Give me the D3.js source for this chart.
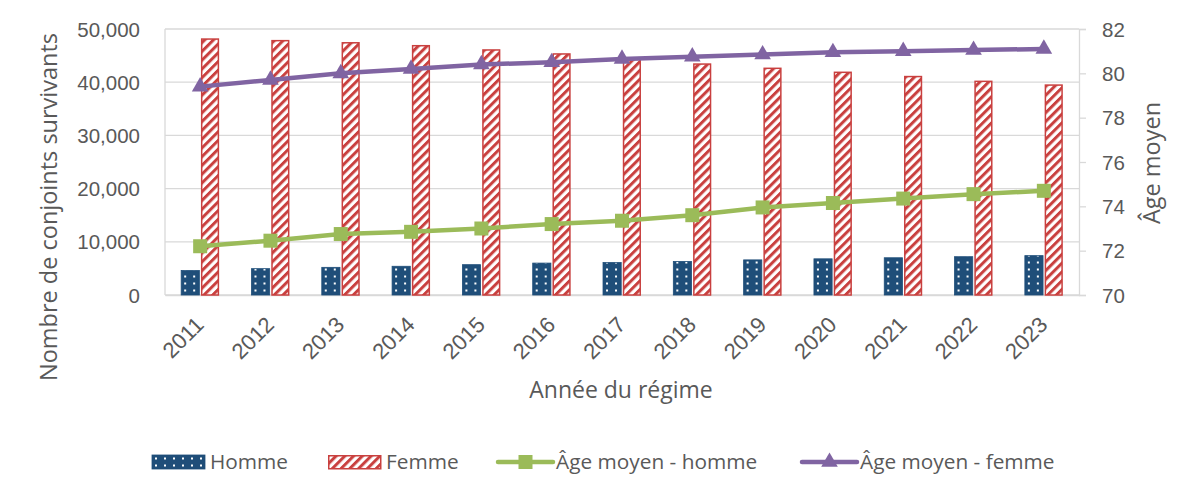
<!DOCTYPE html>
<html>
<head>
<meta charset="utf-8">
<script src="https://cdn.jsdelivr.net/npm/d3@7"></script>
<style>
  html, body { margin: 0; padding: 0; background: #fff; }
  svg { display: block; font-family: "Open Sans", "Noto Sans", sans-serif; }
</style>
</head>
<body>
<svg id="chart" width="1200" height="501"></svg>
<script>
const years = ["2011","2012","2013","2014","2015","2016","2017","2018","2019","2020","2021","2022","2023"];
const homme = [4600, 4950, 5200, 5400, 5700, 6000, 6100, 6300, 6600, 6800, 7000, 7200, 7400];
const femme = [48250, 47950, 47550, 47000, 46200, 45450, 44400, 43550, 42750, 42000, 41200, 40300, 39600];
const ageHomme = [72.2, 72.45, 72.75, 72.85, 73.0, 73.2, 73.35, 73.6, 73.95, 74.15, 74.35, 74.55, 74.7];
const ageFemme = [79.4, 79.7, 80.0, 80.2, 80.4, 80.5, 80.65, 80.75, 80.85, 80.95, 81.0, 81.05, 81.1];
const leftTicks = [0, 10000, 20000, 30000, 40000, 50000];
const rightTicks = [70, 72, 74, 76, 78, 80, 82];
const seriesNames = ["Homme", "Femme", "Âge moyen - homme", "Âge moyen - femme"];

const C = { blue: "#1F4E79", red: "#C9403F", green: "#9BBB59", purple: "#8064A2", text: "#595959", grid: "#D9D9D9" };
const plot = { left: 165, right: 1079, top: 29, bottom: 295 };

const svg = d3.select("#chart");
const defs = svg.append("defs");
const dots = defs.append("pattern").attr("id", "dots").attr("patternUnits", "userSpaceOnUse")
  .attr("width", 9).attr("height", 7);
dots.append("rect").attr("width", 9).attr("height", 7).attr("fill", C.blue);
dots.append("rect").attr("x", 3).attr("y", 2.5).attr("width", 2).attr("height", 2).attr("fill", "#fff");
const stripes = defs.append("pattern").attr("id", "stripes").attr("patternUnits", "userSpaceOnUse")
  .attr("width", 6.2).attr("height", 6.2).attr("patternTransform", "rotate(45)");
stripes.append("rect").attr("width", 6.2).attr("height", 6.2).attr("fill", "#fff");
stripes.append("rect").attr("width", 3).attr("height", 6.2).attr("fill", C.red);

const x0 = d3.scaleBand().domain(years).range([plot.left, plot.right]).paddingInner(0.46).paddingOuter(0.23);
const x1 = d3.scaleBand().domain(["Homme", "Femme"]).range([0, x0.bandwidth()]).paddingInner(0.08);
const yL = d3.scaleLinear().domain([0, 50000]).range([plot.bottom, plot.top]);
const yR = d3.scaleLinear().domain([70, 82]).range([plot.bottom, plot.top]);

// gridlines
svg.append("g").selectAll("line").data(leftTicks).join("line")
  .attr("x1", plot.left).attr("x2", plot.right)
  .attr("y1", d => yL(d)).attr("y2", d => yL(d))
  .attr("stroke", C.grid).attr("stroke-width", 1.3);
// left frame line
svg.append("line").attr("x1", plot.left).attr("x2", plot.left).attr("y1", plot.top).attr("y2", plot.bottom)
  .attr("stroke", C.grid).attr("stroke-width", 1.3);

// left axis
const gL = svg.append("g").attr("transform", `translate(${plot.left},0)`)
  .call(d3.axisLeft(yL).tickValues(leftTicks).tickFormat(d3.format(",")).tickSize(0).tickPadding(25));
gL.select(".domain").remove();
gL.selectAll("text").attr("fill", C.text).style("font-size", "20.5px").attr("dy", "0.35em");

// right axis
const gR = svg.append("g").attr("transform", `translate(${plot.right},0)`)
  .call(d3.axisRight(yR).tickValues(rightTicks).tickSize(7).tickPadding(16));
gR.select(".domain").attr("stroke", C.grid).attr("stroke-width", 1.3);
gR.selectAll(".tick line").attr("stroke", C.grid).attr("stroke-width", 1.3);
gR.selectAll("text").attr("fill", C.text).style("font-size", "20.5px").attr("dy", "0.35em");

// bottom axis labels
const gB = svg.append("g").attr("transform", `translate(0,${plot.bottom})`)
  .call(d3.axisBottom(x0).tickSize(0).tickPadding(0));
gB.select(".domain").attr("stroke", C.grid).attr("stroke-width", 1.3);
gB.selectAll("text")
  .attr("fill", C.text).style("font-size", "22px")
  .attr("text-anchor", "end").attr("dy", 0).attr("y", 0)
  .attr("transform", "translate(5,31) rotate(-45)");

// bars
const groups = svg.append("g").selectAll("g").data(years).join("g")
  .attr("transform", d => `translate(${x0(d)},0)`);
groups.append("rect")
  .attr("x", x1("Homme")).attr("width", x1.bandwidth())
  .attr("y", (d, i) => yL(homme[i])).attr("height", (d, i) => yL(0) - yL(homme[i]))
  .attr("fill", "url(#dots)").attr("stroke", C.blue).attr("stroke-width", 0.8);
groups.append("rect")
  .attr("x", x1("Femme") + 0.75).attr("width", x1.bandwidth() - 1.5)
  .attr("y", (d, i) => yL(femme[i]) + 0.75).attr("height", (d, i) => yL(0) - yL(femme[i]) - 0.75)
  .attr("fill", "url(#stripes)").attr("stroke", C.red).attr("stroke-width", 1.5);

// lines
const cx = d => x0(d) + x0.bandwidth() / 2;
const lineH = d3.line().x((d, i) => cx(years[i])).y(d => yR(d));
svg.append("path").datum(ageHomme).attr("d", lineH).attr("fill", "none")
  .attr("stroke", C.green).attr("stroke-width", 4.5).attr("stroke-linejoin", "round");
svg.append("g").selectAll("rect").data(ageHomme).join("rect")
  .attr("x", (d, i) => cx(years[i]) - 7).attr("y", d => yR(d) - 7)
  .attr("width", 14).attr("height", 14).attr("fill", C.green);

svg.append("path").datum(ageFemme).attr("d", lineH).attr("fill", "none")
  .attr("stroke", C.purple).attr("stroke-width", 4.5).attr("stroke-linejoin", "round");
const tri = d3.symbol().type(d3.symbolTriangle).size(120);
svg.append("g").selectAll("path").data(ageFemme).join("path")
  .attr("transform", (d, i) => `translate(${cx(years[i])},${yR(d)})`)
  .attr("d", tri).attr("fill", C.purple);

// axis titles
svg.append("text").attr("transform", "translate(57,207) rotate(-90)")
  .attr("text-anchor", "middle").attr("fill", C.text).style("font-size", "23.5px")
  .text("Nombre de conjoints survivants");
svg.append("text").attr("transform", "translate(1160,163) rotate(-90)")
  .attr("text-anchor", "middle").attr("fill", C.text).style("font-size", "23.5px")
  .text("Âge moyen");
svg.append("text").attr("x", 621).attr("y", 398)
  .attr("text-anchor", "middle").attr("fill", C.text).style("font-size", "23px")
  .text("Année du régime");

// legend
const legX = [152, 328, 498, 802];
const legY = 462;
const leg = svg.append("g");
seriesNames.forEach((name, i) => {
  const g = leg.append("g").attr("transform", `translate(${legX[i]},${legY})`);
  if (i === 0) {
    g.append("rect").attr("x", 0).attr("y", -7).attr("width", 53).attr("height", 14)
      .attr("fill", "url(#dots)").attr("stroke", C.blue).attr("stroke-width", 0.8);
  } else if (i === 1) {
    g.append("rect").attr("x", 0.75).attr("y", -6.25).attr("width", 52).attr("height", 13)
      .attr("fill", "url(#stripes)").attr("stroke", C.red).attr("stroke-width", 1.5);
  } else {
    const col = i === 2 ? C.green : C.purple;
    g.append("line").attr("x1", 0).attr("x2", 55).attr("y1", 0).attr("y2", 0)
      .attr("stroke", col).attr("stroke-width", 4.5).attr("stroke-linecap", "round");
    if (i === 2) {
      g.append("rect").attr("x", 27.5 - 7).attr("y", -7).attr("width", 14).attr("height", 14).attr("fill", col);
    } else {
      g.append("path").attr("transform", "translate(27.5,0)").attr("d", tri).attr("fill", col);
    }
  }
  g.append("text").attr("x", 58).attr("y", 0).attr("dy", "0.35em")
    .attr("fill", C.text).style("font-size", "20.8px").text(name);
});
</script>
</body>
</html>
